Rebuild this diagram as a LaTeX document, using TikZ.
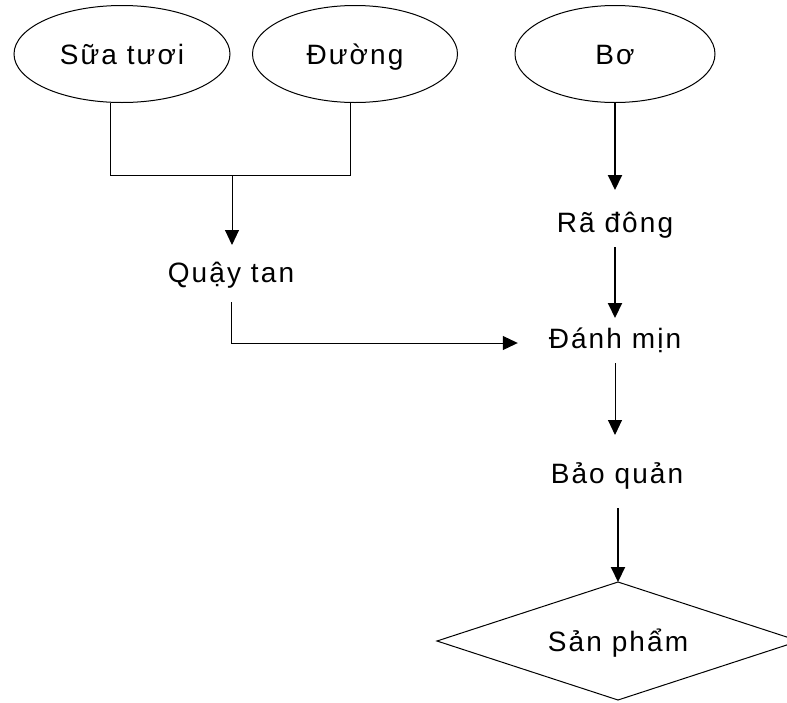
\documentclass[tikz,border=0pt]{standalone}
\usepackage{fontspec}
\setmainfont{Liberation Sans}[LetterSpace=7.5]
\usetikzlibrary{shapes.geometric,arrows.meta}

\begin{document}
\begin{tikzpicture}[x=1pt,y=-1pt,
  font=\fontsize{28}{34}\selectfont,
  every node/.style={inner sep=0pt, outer sep=0pt, text height=20pt, text depth=0pt},
  src/.style={ellipse, draw, line width=1pt, minimum height=97pt},
  product/.style={diamond, draw, line width=1pt, shape aspect=3,
                  minimum width=362pt, minimum height=118pt},
  wire/.style={line width=1pt},
  flow/.style={line width=1pt, -{Triangle[length=15pt,width=14pt]}},
  heavy/.style={flow, line width=2pt}]
\useasboundingbox (0,0) rectangle (787,702);

% raw materials
\node[src, minimum width=216pt] (sua)   at (122,54) {Sữa tươi};
\node[src, minimum width=205pt] (duong) at (355,54) {Đường};
\node[src, minimum width=200pt] (bo)    at (615,54) {Bơ};

% process steps
\node (quay)    at (231,272) {Quậy tan};
\node (radong)  at (615,222) {Rã đông};
\node (danhmin) at (615,338) {Đánh mịn};
\node (baoquan) at (617,473) {Bảo quản};
\node[product] (sanpham) at (618,641) {Sản phẩm};

% milk and sugar join, then go to mixing
\coordinate (busL) at (110,175);
\coordinate (busR) at (350,175);
\coordinate (busM) at (232,175);
\draw[wire] (sua.south -| busL) -- (busL) -- (busR) -- (duong.south -| busR);
\draw[flow, shorten >=17pt] (busM) -- (busM |- quay.north);

% mixed syrup into whipping
\draw[flow, shorten <=20pt, shorten >=31pt] (quay.south) |- ([yshift=-5pt]danhmin.west);

% butter line
\draw[heavy, shorten >=22pt] (bo.south) -- (radong.north);
\draw[heavy, shorten <=15pt, shorten >=10pt] (radong.south) -- (danhmin.north);
\draw[flow, shorten <=15pt, shorten >=28pt] (danhmin.south) -- (danhmin.south |- baoquan.north);
\draw[heavy, shorten <=25pt] (baoquan.south -| sanpham.north) -- (sanpham.north);
\end{tikzpicture}
\end{document}
